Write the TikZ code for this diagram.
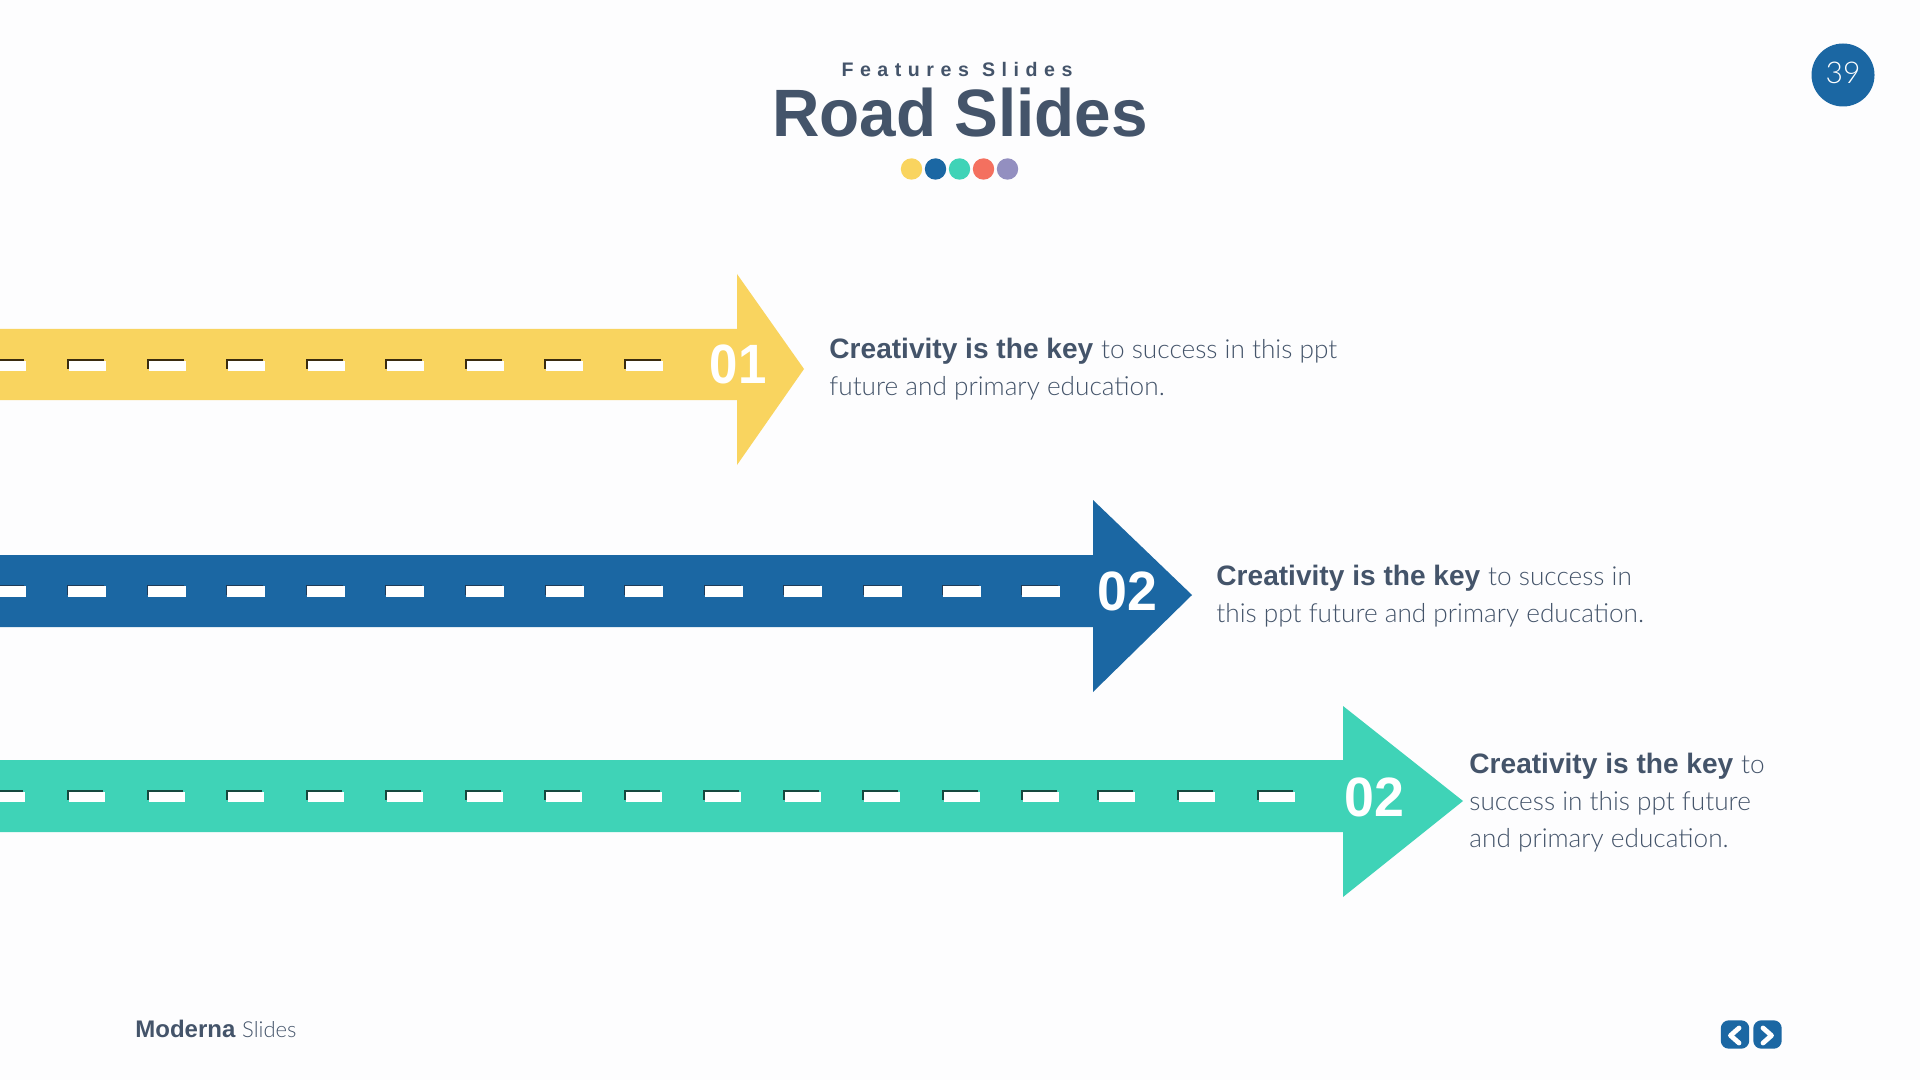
\documentclass[tikz,border=0pt]{standalone}
\usepackage{fontspec}
\setmainfont{Liberation Sans}
\newfontfamily\lightfont{Lato Light}
\definecolor{ink}{HTML}{44546A}
\definecolor{bgc}{HTML}{FDFDFE}
\definecolor{yel}{HTML}{F9D45F}
\definecolor{blu}{HTML}{1B67A3}
\definecolor{tea}{HTML}{3FD3B7}
\definecolor{red}{HTML}{F4705F}
\definecolor{pur}{HTML}{938FC0}
\definecolor{shadey}{HTML}{3A2C10}
\definecolor{shadeb}{HTML}{1F3B57}
\definecolor{shadet}{HTML}{17493F}
\tikzset{x=0.5pt,y=-0.5pt,
 dashw/.style={fill=white,draw=none},
 num/.style={text=white,font=\bfseries\fontsize{27.7}{27.7}\selectfont,inner sep=0pt},
 desc/.style={text=ink,anchor=north west,inner sep=0pt,align=left,font=\fontsize{14.05}{18.4}\selectfont},
 dot/.style={circle,minimum size=10.7pt,inner sep=0pt,draw=none},
 navbtn/.style={fill=blu,rounded corners=4pt,minimum size=14.2pt,inner sep=0pt},
 chev/.style={white,line width=2.4pt,line cap=round,line join=round}}
\newcommand{\lt}[1]{{\lightfont\fontsize{13.1}{18.4}\selectfont #1}}
\begin{document}
\begin{tikzpicture}
\useasboundingbox (0,0) rectangle (1920,1080);
\fill[bgc] (0,0) rectangle (1920,1080);
% arrows
\fill[yel] (0,329) -- (737,329) -- (737,274) -- (804,369) -- (737,465) -- (737,400) -- (0,400) -- cycle;
\fill[blu] (0,555) -- (1093,555) -- (1093,500) -- (1192,595) -- (1093,692) -- (1093,627) -- (0,627) -- cycle;
\fill[tea] (0,760) -- (1343,760) -- (1343,706) -- (1463,801) -- (1343,897) -- (1343,832) -- (0,832) -- cycle;
% dashes
\foreach \x in {-13,67,147,226,306,385,465,544,624}{
 \fill[shadey] (\x,359) rectangle +(37,10);
 \fill[dashw] (\x+2,361) rectangle +(37,10);}
\foreach \x in {-13,67,147,226,306,385,465,545,624,704,783,863,942,1021}{
 \fill[shadeb] (\x,585) rectangle +(37,10);
 \fill[dashw] (\x+1,586) rectangle +(38,11);}
\foreach \x in {-13,67,147,226,306,385,465,544,624,703,783,862,942,1021,1097,1177,1257}{
 \fill[shadet] (\x,790) rectangle +(36,10);
 \fill[dashw] (\x+2,792) rectangle +(36,10);}
% numbers
\node[num] (n1) at (738,364) {\scalebox{.92}[1]{01}};
\node[num] (n2) at (1127,591) {\scalebox{.97}[1]{02}};
\node[num] (n3) at (1374,797) {\scalebox{.97}[1]{02}};
% descriptions
\node[desc] (d1) at (829,338) {\textbf{Creativity is the key} \lt{to success in this ppt}\\\lt{future and primary education.}};
\node[desc] (d2) at (1216,565) {\textbf{Creativity is the key} \lt{to success in}\\\lt{this ppt future and primary education.}};
\node[desc] (d3) at (1469,753) {\textbf{Creativity is the key} \lt{to}\\\lt{success in this ppt future}\\\lt{and primary education.}};
% title
\node[text=ink,font=\bfseries\fontsize{9.8}{12}\selectfont,inner sep=0pt] (sub) at (957,70) {F\,\,e\,\,a\,\,t\,\,u\,\,r\,\,e\,\,s\,\,\,\,S\,\,l\,\,i\,\,d\,\,e\,\,s};
\node[text=ink,font=\bfseries\fontsize{33.5}{40}\selectfont,inner sep=0pt] (title) at (960,113) {\scalebox{.98}[1]{Road Slides}};
\node[dot,fill=yel] (c1) at (911.5,169) {};
\node[dot,fill=blu] (c2) at (935.5,169) {};
\node[dot,fill=tea] (c3) at (959.5,169) {};
\node[dot,fill=red] (c4) at (983.5,169) {};
\node[dot,fill=pur] (c5) at (1007.5,169) {};
% page number
\node[circle,fill=blu,minimum size=31.5pt,inner sep=0pt,text=white,font=\lightfont\fontsize{15}{15}\selectfont] (pg) at (1843,75) {\raisebox{2.2pt}{39}};
% footer
\node[text=ink,anchor=west,inner sep=0pt,font=\fontsize{12}{14}\selectfont] (foot) at (135,1029) {\textbf{Moderna} {\lightfont\fontsize{11}{14}\selectfont Slides}};
\node[navbtn] (prev) at (1735,1034.5) {};
\node[navbtn] (next) at (1767.5,1034.5) {};
\draw[chev] (1739,1028) -- (1730.5,1035.5) -- (1739,1043);
\draw[chev] (1763,1028) -- (1771.5,1035.5) -- (1763,1043);
\end{tikzpicture}
\end{document}
